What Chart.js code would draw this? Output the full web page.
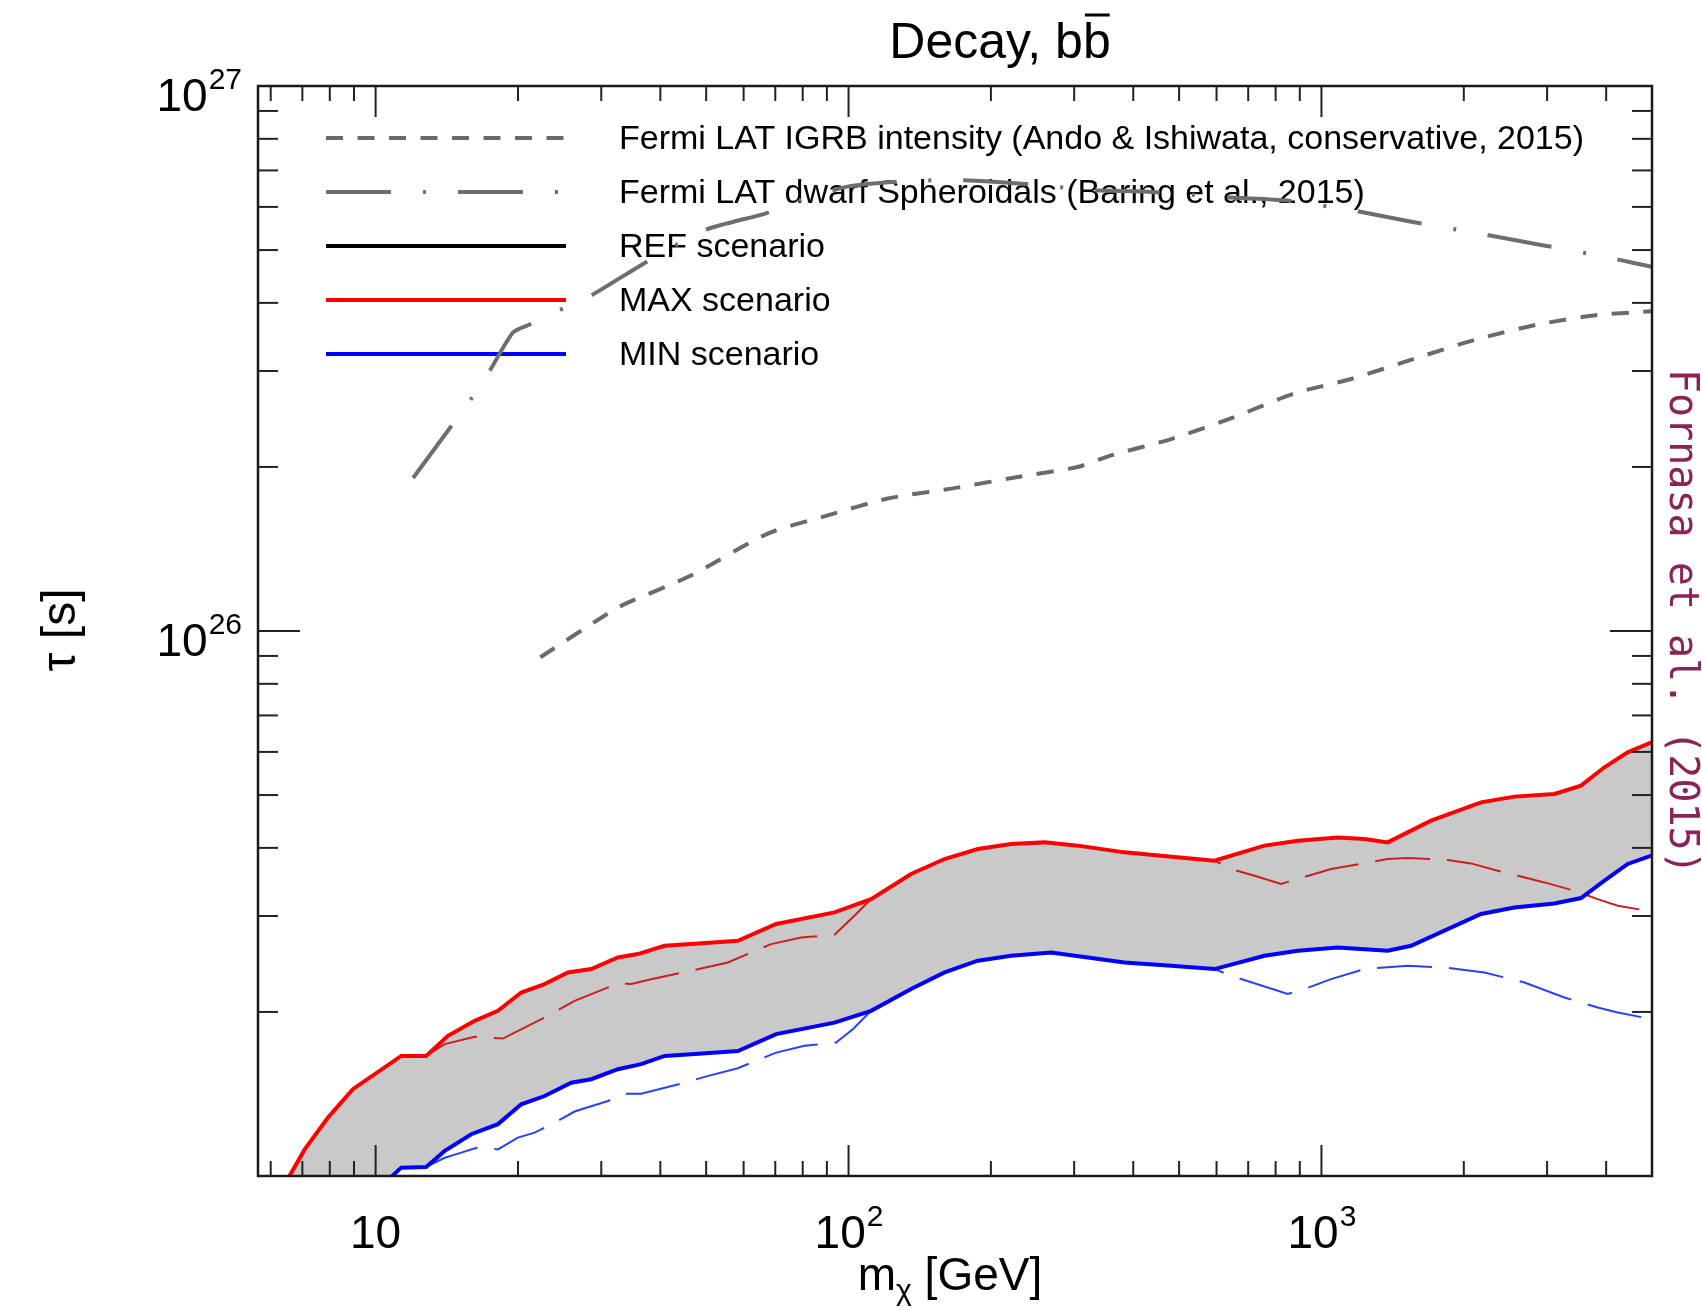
<!DOCTYPE html>
<html>
<head>
<meta charset="utf-8">
<title>Decay, bb</title>
<script src="https://cdn.jsdelivr.net/npm/chart.js@4.4.1/dist/chart.umd.min.js"></script>
<style>
  html, body { margin: 0; padding: 0; background: #fff; }
  #wrap { position: relative; width: 1702px; height: 1310px; }
</style>
</head>
<body>
<div id="wrap"><canvas id="chart"></canvas></div>
<script>
// dark matter mass m_chi [GeV] and lifetime tau [s]

const legendLabels = [
  'Fermi LAT IGRB intensity (Ando & Ishiwata, conservative, 2015)',
  'Fermi LAT dwarf Spheroidals (Baring et al., 2015)',
  'REF scenario',
  'MAX scenario',
  'MIN scenario'
];

const igrbMass = [22.3, 31.0, 33.6, 46.4, 67.5, 90.4, 121, 165, 228, 305, 359, 481, 655, 877, 1155, 1574, 2106, 2864, 3836, 5000];
const igrbTau = [8.95e25, 1.077e26, 1.12e26, 1.264e26, 1.509e26, 1.63e26, 1.75e26, 1.825e26, 1.917e26, 2.0e26,
  2.1e26, 2.25e26, 2.47e26, 2.73e26, 2.9e26, 3.16e26, 3.42e26, 3.65e26, 3.8e26, 3.86e26];

const dsphMass = [12.0, 14.41, 15.88, 17.42, 19.51, 21.16, 24.5, 28.6, 37.0, 49.6, 66.9, 78.9, 100.6, 131.8, 171.7,
  232, 331, 429, 613, 835, 1155, 1560, 2158, 2914, 4064, 4990];
const dsphTau = [1.909e26, 2.367e26, 2.658e26, 3.0e26, 3.53e26, 3.65e26, 3.88e26, 4.13e26, 4.73e26, 5.44e26, 5.84e26,
  6.17e26, 6.55e26, 6.69e26, 6.72e26, 6.62e26, 6.44e26, 6.40e26, 6.26e26, 6.17e26, 5.92e26, 5.63e26, 5.36e26,
  5.11e26, 4.84e26, 4.66e26];

const maxMass = [6.53, 7.08, 7.93, 8.95, 11.33, 12.79, 14.22, 16.2, 18.14, 20.32, 22.77, 25.5, 28.57, 32.53, 35.85,
  40.83, 46.48, 58.34, 70.3, 93.4, 111.6, 135.6, 159.6, 187.7, 220.7, 259.7, 305.3, 383.3, 458, 594, 757.8, 891.3,
  1082.6, 1233, 1381, 1705, 2175, 2559, 3109, 3539, 3966, 4442, 4990];
const maxTau = [0.99e25, 1.119e25, 1.28e25, 1.443e25, 1.661e25, 1.661e25, 1.808e25, 1.926e25, 2.009e25, 2.171e25,
  2.25e25, 2.363e25, 2.397e25, 2.517e25, 2.554e25, 2.645e25, 2.664e25, 2.702e25, 2.90e25, 3.046e25, 3.222e25,
  3.583e25, 3.816e25, 3.981e25, 4.067e25, 4.094e25, 4.038e25, 3.925e25, 3.871e25, 3.79e25, 4.038e25, 4.123e25,
  4.18e25, 4.152e25, 4.094e25, 4.487e25, 4.848e25, 4.967e25, 5.023e25, 5.203e25, 5.623e25, 5.99e25, 6.25e25];

const minMass = [10.7, 11.33, 12.79, 14.0, 15.93, 18.14, 20.32, 22.77, 25.92, 28.57, 32.53, 36.43, 40.83, 46.48,
  58.34, 70.3, 93.4, 111.6, 135.6, 159.6, 187.7, 220.7, 268.1, 383.3, 481, 594, 757.8, 891.3, 1082.6, 1381, 1547,
  2175, 2559, 3109, 3539, 3966, 4442, 4990];
const minTau = [0.99e25, 1.036e25, 1.039e25, 1.112e25, 1.193e25, 1.245e25, 1.354e25, 1.402e25, 1.483e25, 1.505e25,
  1.57e25, 1.604e25, 1.661e25, 1.673e25, 1.696e25, 1.821e25, 1.912e25, 2.009e25, 2.203e25, 2.363e25, 2.483e25,
  2.535e25, 2.571e25, 2.465e25, 2.431e25, 2.397e25, 2.535e25, 2.59e25, 2.626e25, 2.59e25, 2.645e25, 3.025e25,
  3.11e25, 3.163e25, 3.236e25, 3.483e25, 3.737e25, 3.871e25];

const maxAltMass = [12.79, 14.0, 16.2, 18.58, 22.77, 26.35, 32.53, 34.71, 38.25, 46.48, 55.57, 68.6, 79.4, 93.4,
  103.8, 111.6, 135.6, 159.6, 187.7, 220.7, 259.7, 305.3, 383.3, 458, 594, 654.8, 721.9, 821.4, 1048, 1381, 1522,
  1850, 2071, 2359, 2962, 3426, 3839, 4232, 4990];
const maxAltTau = [1.661e25, 1.746e25, 1.8e25, 1.787e25, 1.953e25, 2.096e25, 2.256e25, 2.25e25, 2.297e25, 2.38e25,
  2.465e25, 2.664e25, 2.739e25, 2.771e25, 3.025e25, 3.222e25, 3.583e25, 3.816e25, 3.981e25, 4.067e25, 4.094e25,
  4.038e25, 3.925e25, 3.871e25, 3.79e25, 3.643e25, 3.556e25, 3.434e25, 3.659e25, 3.816e25, 3.833e25, 3.8e25,
  3.746e25, 3.632e25, 3.457e25, 3.337e25, 3.222e25, 3.132e25, 3.058e25];

const minAltMass = [12.79, 14.0, 15.17, 16.6, 18.14, 19.99, 21.69, 23.89, 26.35, 30.98, 33.6, 36.43, 45.0, 49.6,
  58.34, 70.3, 80.7, 94.1, 102.1, 111.6, 135.6, 159.6, 187.7, 220.7, 268.1, 383.3, 481, 594, 644, 848.6, 920, 1048,
  1233, 1522, 1820, 2211, 2687, 3264, 3839, 4232, 4990];
const minAltTau = [1.039e25, 1.08e25, 1.104e25, 1.131e25, 1.119e25, 1.176e25, 1.201e25, 1.253e25, 1.313e25,
  1.373e25, 1.416e25, 1.416e25, 1.483e25, 1.52e25, 1.577e25, 1.684e25, 1.733e25, 1.757e25, 1.859e25, 2.009e25,
  2.203e25, 2.363e25, 2.483e25, 2.535e25, 2.571e25, 2.465e25, 2.431e25, 2.397e25, 2.33e25, 2.157e25, 2.203e25,
  2.297e25, 2.397e25, 2.431e25, 2.413e25, 2.363e25, 2.265e25, 2.126e25, 2.038e25, 1.995e25, 1.94e25];

// axes
const xMin = 5.64, xMax = 5000;
const yMin = 1e25, yMax = 1e27;
const xMajorTicks = [10, 100, 1000];
const xMinorTicks = [6, 7, 8, 9, 20, 30, 40, 50, 60, 70, 80, 90, 200, 300, 400, 500, 600, 700, 800, 900, 2000, 3000, 4000];
const xTickLabels = ['10', '10^2', '10^3'];
const yMajorTicks = [1e26, 1e27];
const yMinorTicks = [2e25, 3e25, 4e25, 5e25, 6e25, 7e25, 8e25, 9e25, 2e26, 3e26, 4e26, 5e26, 6e26, 7e26, 8e26, 9e26];
const yTickLabels = ['10^26', '10^27'];

const FONT = '"Liberation Sans", Arial, Helvetica, sans-serif';

function pts(xs, ys) {
  return xs.map((x, i) => ({ x: x, y: ys[i] }));
}

function drawPower(ctx, label, x, y, align) {
  const parts = label.split('^');
  ctx.font = '46px ' + FONT;
  const wb = ctx.measureText(parts[0]).width;
  ctx.font = '30px ' + FONT;
  const we = parts[1] ? ctx.measureText(parts[1]).width : 0;
  let x0 = x;
  if (align === 'center') x0 = x - (wb + we) / 2;
  if (align === 'right') x0 = x - (wb + we);
  ctx.textAlign = 'left';
  ctx.textBaseline = 'alphabetic';
  ctx.font = '46px ' + FONT;
  ctx.fillText(parts[0], x0, y);
  if (parts[1]) {
    ctx.font = '30px ' + FONT;
    ctx.fillText(parts[1], x0 + wb + 1, y - 22);
  }
}

const decor = {
  id: 'decor',
  beforeDatasetsDraw(chart) {
    const ctx = chart.ctx, a = chart.chartArea;
    // grey band between MAX and MIN
    const hi = chart.getDatasetMeta(0).data, lo = chart.getDatasetMeta(1).data;
    ctx.save();
    ctx.beginPath();
    ctx.rect(a.left, a.top, a.right - a.left, a.bottom - a.top);
    ctx.clip();
    ctx.beginPath();
    hi.forEach((p, i) => (i ? ctx.lineTo(p.x, p.y) : ctx.moveTo(p.x, p.y)));
    for (let i = lo.length - 1; i >= 0; i--) ctx.lineTo(lo[i].x, lo[i].y);
    ctx.closePath();
    ctx.fillStyle = '#c9c9c9';
    ctx.fill();
    ctx.restore();

    // legend
    ctx.save();
    legendLabels.forEach((lab, i) => {
      const ds = chart.data.datasets.find(d => d.label === lab);
      const y = 138 + i * 54;
      ctx.beginPath();
      ctx.setLineDash(ds.borderDash || []);
      ctx.lineWidth = 4;
      ctx.strokeStyle = ds.borderColor;
      ctx.moveTo(326, y);
      ctx.lineTo(566, y);
      ctx.stroke();
      ctx.setLineDash([]);
      ctx.fillStyle = '#000';
      ctx.font = '34px ' + FONT;
      ctx.textAlign = 'left';
      ctx.textBaseline = 'middle';
      ctx.fillText(lab, 619, y + 2);
    });
    ctx.restore();
  },
  afterDraw(chart) {
    const ctx = chart.ctx, a = chart.chartArea;
    const xs = chart.scales.x, ys = chart.scales.y;
    ctx.save();
    ctx.strokeStyle = '#222';
    ctx.lineWidth = 2;
    const seg = (x1, y1, x2, y2) => { ctx.beginPath(); ctx.moveTo(x1, y1); ctx.lineTo(x2, y2); ctx.stroke(); };
    const xt = (v, len) => {
      const px = xs.getPixelForValue(v);
      seg(px, a.bottom, px, a.bottom - len);
      seg(px, a.top, px, a.top + len);
    };
    const yt = (v, len) => {
      const py = ys.getPixelForValue(v);
      seg(a.left, py, a.left + len, py);
      seg(a.right, py, a.right - len, py);
    };
    xMinorTicks.forEach(v => xt(v, 15));
    xMajorTicks.forEach(v => xt(v, 31));
    yMinorTicks.forEach(v => yt(v, 20));
    yMajorTicks.forEach(v => yt(v, 42));
    ctx.lineWidth = 2.5;
    ctx.strokeStyle = '#1a1a1a';
    ctx.strokeRect(a.left, a.top, a.right - a.left, a.bottom - a.top);

    ctx.fillStyle = '#000';
    xTickLabels.forEach((t, i) => drawPower(ctx, t, xs.getPixelForValue(xMajorTicks[i]), 1248, 'center'));
    yTickLabels.forEach((t, i) => drawPower(ctx, t, 241, ys.getPixelForValue(yMajorTicks[i]) + 25, 'right'));

    // title  "Decay, b b-bar"
    ctx.font = '50px ' + FONT;
    ctx.textBaseline = 'alphabetic';
    ctx.textAlign = 'left';
    const t1 = 'Decay, b', t2 = 'b';
    const w1 = ctx.measureText(t1).width, w2 = ctx.measureText(t2).width;
    const tx = 1000 - (w1 + w2) / 2;
    ctx.fillText(t1, tx, 58);
    ctx.fillText(t2, tx + w1, 58);
    ctx.lineWidth = 3;
    ctx.strokeStyle = '#000';
    seg(tx + w1 + 2, 15, tx + w1 + w2 - 1, 15);

    // x axis title  m_chi [GeV]
    ctx.font = '46px ' + FONT;
    const wm = ctx.measureText('m').width;
    const wr = ctx.measureText(' [GeV]').width;
    ctx.font = '30px ' + FONT;
    const wc = ctx.measureText('\u03C7').width;
    let x0 = 950 - (wm + wc + wr) / 2;
    ctx.font = '46px ' + FONT;
    ctx.fillText('m', x0, 1290);
    ctx.font = '30px ' + FONT;
    ctx.fillText('\u03C7', x0 + wm, 1300);
    ctx.font = '46px ' + FONT;
    ctx.fillText(' [GeV]', x0 + wm + wc, 1290);

    // y axis title
    ctx.save();
    ctx.translate(75, 630);
    ctx.rotate(-Math.PI / 2);
    ctx.font = '48px ' + FONT;
    ctx.textAlign = 'center';
    ctx.fillText('\u03C4 [s]', 0, 0);
    ctx.restore();

    // side credit
    ctx.save();
    ctx.translate(1670, 369);
    ctx.rotate(Math.PI / 2);
    ctx.font = '40px "DejaVu Sans Mono", monospace';
    ctx.fillStyle = '#8c2358';
    ctx.textAlign = 'left';
    ctx.fillText('Fornasa et al. (2015)', 0, 0);
    ctx.restore();
    ctx.restore();
  }
};

const chart = new Chart(document.getElementById('chart'), {
  type: 'line',
  data: {
    datasets: [
      { label: 'MAX scenario', data: pts(maxMass, maxTau), borderColor: '#ff0000', borderWidth: 4 },
      { label: 'MIN scenario', data: pts(minMass, minTau), borderColor: '#0000ff', borderWidth: 4 },
      { label: 'MAX alt', data: pts(maxAltMass, maxAltTau), borderColor: '#cc1f1f', borderWidth: 2, borderDash: [55, 17] },
      { label: 'MIN alt', data: pts(minAltMass, minAltTau), borderColor: '#2840ff', borderWidth: 2, borderDash: [55, 17] },
      { label: 'REF scenario', data: [], borderColor: '#000000', borderWidth: 4 },
      { label: legendLabels[0], data: pts(igrbMass, igrbTau), borderColor: '#6a6a6a', borderWidth: 4,
        borderDash: [17, 14.5], tension: 0.25 },
      { label: legendLabels[1], data: pts(dsphMass, dsphTau), borderColor: '#6e6e6e', borderWidth: 4,
        borderDash: [65, 32, 3, 32], tension: 0.2 }
    ]
  },
  options: {
    responsive: true,
    maintainAspectRatio: false,
    animation: false,
    devicePixelRatio: 1,
    layout: { padding: { left: 258, right: 50, top: 86, bottom: 134 } },
    elements: { point: { radius: 0 }, line: { tension: 0, fill: false } },
    scales: {
      x: { type: 'logarithmic', min: xMin, max: xMax, display: false },
      y: { type: 'logarithmic', min: yMin, max: yMax, display: false }
    },
    plugins: { legend: { display: false }, tooltip: { enabled: false }, title: { display: false } }
  },
  plugins: [decor]
});
</script>
</body>
</html>
